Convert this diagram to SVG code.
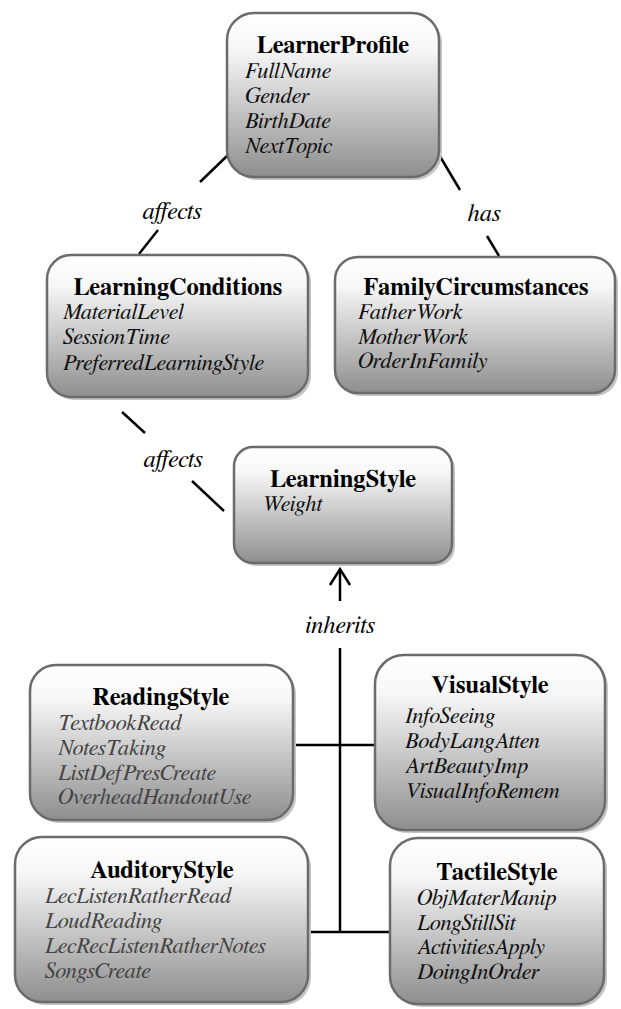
<svg xmlns="http://www.w3.org/2000/svg" width="621" height="1009" viewBox="0 0 621 1009">
<defs>
<linearGradient id="g" x1="0" y1="0" x2="0" y2="1">
<stop offset="0" stop-color="#ffffff"/>
<stop offset="0.22" stop-color="#f7f7f7"/>
<stop offset="1" stop-color="#8e8e8e"/>
</linearGradient>
</defs>
<style>
.box{fill:url(#g);stroke:#6b6b6b;stroke-width:2.5}
.sh{fill:#c4c4c4}
text{font-family:FreeSerif,'Liberation Serif','DejaVu Serif',serif}
.t{font-weight:bold;font-size:24.5px;text-anchor:middle;fill:#000}
.a{font-style:italic;font-size:22.5px;fill:#111}
.ag{font-style:italic;font-size:22.5px;fill:#444}
.lb{font-style:italic;font-size:24.5px;text-anchor:middle;fill:#000}
.c{stroke:#000;stroke-width:2.5;fill:none}
</style>
<g id="connectors">
<line class="c" x1="228" y1="155" x2="200" y2="182"/>
<line class="c" x1="158" y1="230" x2="139" y2="254"/>
<text class="lb" x="172" y="219">affects</text>
<line class="c" x1="438" y1="153" x2="460" y2="190"/>
<line class="c" x1="487" y1="236" x2="499" y2="256"/>
<text class="lb" x="484" y="221">has</text>
<line class="c" x1="122" y1="412" x2="145" y2="433"/>
<line class="c" x1="192" y1="481" x2="224" y2="511"/>
<text class="lb" x="173" y="467">affects</text>
<line class="c" x1="340" y1="601" x2="340" y2="569"/>
<polyline class="c" points="330,585 340,569 350,585"/>
<text class="lb" x="340" y="633">inherits</text>
<line class="c" x1="340" y1="648" x2="340" y2="933"/>
<line class="c" x1="293" y1="745" x2="375" y2="745"/>
<line class="c" x1="308" y1="932" x2="390" y2="932"/>
</g>
<g id="LearnerProfile">
<rect class="sh" x="230" y="16" width="212" height="164" rx="27"/>
<rect class="box" x="227" y="13" width="212" height="164" rx="27"/>
<text class="t" x="333" y="53">LearnerProfile</text>
<text class="a" x="245" y="78">FullName</text>
<text class="a" x="245" y="103">Gender</text>
<text class="a" x="245" y="128">BirthDate</text>
<text class="a" x="245" y="153">NextTopic</text>
</g>
<g id="LearningConditions">
<rect class="sh" x="50" y="258" width="261" height="142" rx="24"/>
<rect class="box" x="47" y="255" width="261" height="142" rx="24"/>
<text class="t" x="178" y="295">LearningConditions</text>
<text class="a" x="63" y="319">MaterialLevel</text>
<text class="a" x="63" y="344">SessionTime</text>
<text class="a" x="63" y="370">PreferredLearningStyle</text>
</g>
<g id="FamilyCircumstances">
<rect class="sh" x="338" y="260" width="280" height="136" rx="23"/>
<rect class="box" x="335" y="257" width="280" height="136" rx="23"/>
<text class="t" x="476" y="295">FamilyCircumstances</text>
<text class="a" x="358" y="319">FatherWork</text>
<text class="a" x="358" y="344">MotherWork</text>
<text class="a" x="358" y="368">OrderInFamily</text>
</g>
<g id="LearningStyle">
<rect class="sh" x="237" y="450" width="218" height="116" rx="19"/>
<rect class="box" x="234" y="447" width="218" height="116" rx="19"/>
<text class="t" x="343" y="487">LearningStyle</text>
<text class="a" x="262" y="511">Weight</text>
</g>
<g id="ReadingStyle">
<rect class="sh" x="33" y="668" width="263" height="155" rx="26"/>
<rect class="box" x="30" y="665" width="263" height="155" rx="26"/>
<text class="t" x="161" y="705">ReadingStyle</text>
<text class="ag" x="58" y="730">TextbookRead</text>
<text class="ag" x="58" y="755">NotesTaking</text>
<text class="ag" x="58" y="780">ListDefPresCreate</text>
<text class="ag" x="58" y="804">OverheadHandoutUse</text>
</g>
<g id="VisualStyle">
<rect class="sh" x="378" y="658" width="230" height="175" rx="29"/>
<rect class="box" x="375" y="655" width="230" height="175" rx="29"/>
<text class="t" x="490" y="693">VisualStyle</text>
<text class="a" x="405" y="723">InfoSeeing</text>
<text class="a" x="405" y="748">BodyLangAtten</text>
<text class="a" x="405" y="773">ArtBeautyImp</text>
<text class="a" x="405" y="798">VisualInfoRemem</text>
</g>
<g id="AuditoryStyle">
<rect class="sh" x="18" y="840" width="293" height="165" rx="27"/>
<rect class="box" x="15" y="837" width="293" height="165" rx="27"/>
<text class="t" x="162" y="878">AuditoryStyle</text>
<text class="ag" x="45" y="903">LecListenRatherRead</text>
<text class="ag" x="45" y="928">LoudReading</text>
<text class="ag" x="45" y="953">LecRecListenRatherNotes</text>
<text class="ag" x="45" y="978">SongsCreate</text>
</g>
<g id="TactileStyle">
<rect class="sh" x="393" y="841" width="214" height="166" rx="28"/>
<rect class="box" x="390" y="838" width="214" height="166" rx="28"/>
<text class="t" x="497" y="880">TactileStyle</text>
<text class="a" x="417" y="905">ObjMaterManip</text>
<text class="a" x="417" y="930">LongStillSit</text>
<text class="a" x="417" y="954">ActivitiesApply</text>
<text class="a" x="417" y="979">DoingInOrder</text>
</g>
</svg>
